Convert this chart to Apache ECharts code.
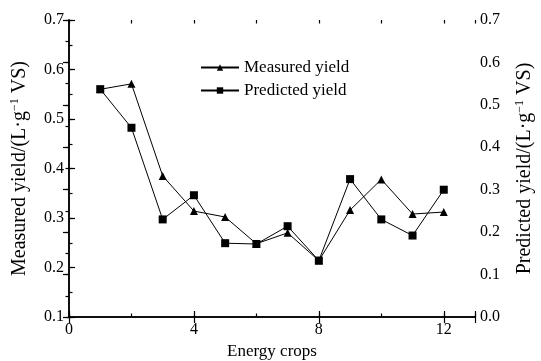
<!DOCTYPE html>
<html>
<head>
<meta charset="utf-8">
<script src="https://cdn.jsdelivr.net/npm/echarts@6/dist/echarts.min.js"></script>
<style>
  html, body { margin: 0; padding: 0; background: #fff; }
  #chart { width: 541px; height: 361px; }
</style>
</head>
<body>
<div id="chart"></div>
<script>
// energy crop index 1..12
const crops = [1, 2, 3, 4, 5, 6, 7, 8, 9, 10, 11, 12]
// measured yield, left axis
const measured = [0.560, 0.571, 0.385, 0.314, 0.302, 0.248, 0.270, 0.214, 0.316, 0.378, 0.308, 0.312]
// predicted yield, right axis
const predicted = [0.537, 0.446, 0.230, 0.287, 0.174, 0.172, 0.214, 0.133, 0.325, 0.230, 0.192, 0.300]

const FONT = 'Liberation Serif'
const black = '#000'

const chart = echarts.init(document.getElementById('chart'), null, { renderer: 'canvas' })

const tickStyle = { show: true, inside: true, length: 6, lineStyle: { color: black, width: 1.2 } }
const minorTickStyle = { show: true, inside: true, length: 3.5, lineStyle: { color: black, width: 1.2 } }
const lineAxis = { show: true, lineStyle: { color: black, width: 1.5 } }
const labelStyle = { fontFamily: FONT, fontSize: 16, color: black, margin: 5 }
const nameRich = {
  a: { fontFamily: FONT, fontSize: 20, color: black },
  s: { fontFamily: FONT, fontSize: 12, color: black, verticalAlign: 'top', padding: [0, 0, 10, 0] },
}

// tick-only helper axes for the half-step minor ticks
function minorX(position) {
  return {
    type: 'value', position, min: 0, max: 13, interval: 2,
    axisLine: { show: false }, axisTick: minorTickStyle,
    axisLabel: { show: false }, splitLine: { show: false },
  }
}
function minorY(position, min) {
  return {
    type: 'value', position, min, max: 0.7, interval: 0.05,
    axisLine: { show: false }, axisTick: minorTickStyle,
    axisLabel: { show: false }, splitLine: { show: false },
  }
}

chart.setOption({
  backgroundColor: '#fff',
  animation: false,
  grid: { left: 69, right: 66, top: 20, bottom: 44, containLabel: false, outerBoundsMode: 'none' },
  legend: {
    left: 195, top: 54, orient: 'vertical',
    itemWidth: 38, itemHeight: 8, itemGap: 6,
    textStyle: { fontFamily: FONT, fontSize: 17, color: black },
    data: ['Measured yield', 'Predicted yield'],
  },
  xAxis: [
    {
      type: 'value', position: 'bottom', min: 0, max: 13, interval: 4,
      name: 'Energy crops', nameLocation: 'middle', nameGap: 25,
      nameTextStyle: { fontFamily: FONT, fontSize: 17, color: black },
      axisLine: lineAxis, axisTick: tickStyle,
      axisLabel: { ...labelStyle, margin: 5, formatter: v => (v % 4 === 0 ? String(v) : '') },
      splitLine: { show: false },
    },
    {
      type: 'value', position: 'top', min: 0, max: 13, interval: 4,
      axisLine: lineAxis, axisTick: tickStyle,
      axisLabel: { show: false }, splitLine: { show: false },
    },
    minorX('bottom'),
    minorX('top'),
  ],
  yAxis: [
    {
      type: 'value', position: 'left', min: 0.1, max: 0.7, interval: 0.1,
      name: '{a|Measured yield/(L·g}{s|−1}{a| VS)}', nameLocation: 'middle', nameGap: 38, nameRotate: 90,
      nameTextStyle: { rich: nameRich },
      axisLine: lineAxis, axisTick: tickStyle,
      axisLabel: { ...labelStyle, formatter: v => v.toFixed(1) },
      splitLine: { show: false },
    },
    {
      type: 'value', position: 'right', min: 0, max: 0.7, interval: 0.1,
      name: '{a|Predicted yield/(L·g}{s|−1}{a| VS)}', nameLocation: 'middle', nameGap: 39, nameRotate: 90,
      nameTextStyle: { rich: nameRich },
      axisLine: lineAxis, axisTick: tickStyle,
      axisLabel: { ...labelStyle, formatter: v => v.toFixed(1) },
      splitLine: { show: false },
    },
    minorY('left', 0.1),
    minorY('right', 0),
  ],
  series: [
    {
      type: 'line', name: 'Measured yield', xAxisIndex: 0, yAxisIndex: 0,
      data: crops.map((c, i) => [c, measured[i]]),
      symbol: 'triangle', symbolSize: 8,
      lineStyle: { color: black, width: 1 },
      itemStyle: { color: black },
    },
    {
      type: 'line', name: 'Predicted yield', xAxisIndex: 0, yAxisIndex: 1,
      data: crops.map((c, i) => [c, predicted[i]]),
      symbol: 'rect', symbolSize: 8,
      lineStyle: { color: black, width: 1 },
      itemStyle: { color: black },
    },
  ],
})
</script>
</body>
</html>
